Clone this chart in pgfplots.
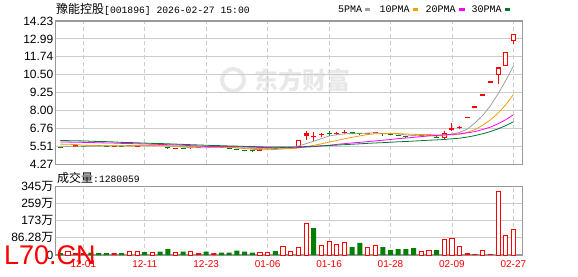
\documentclass[border=0pt]{standalone}
\usepackage{fontspec}
\setmainfont{Liberation Sans}
\newfontfamily\cjk{Noto Sans CJK SC}
\newfontfamily\mono{Liberation Mono}
\usepackage{pgfplots}
\usepackage{pgfplotstable}
\pgfplotsset{compat=1.18}
\definecolor{cred}{HTML}{FF0000}
\definecolor{cgreen}{HTML}{008000}
\definecolor{cma5}{HTML}{A0A0A0}
\definecolor{cma10}{HTML}{F0A000}
\definecolor{cma20}{HTML}{FF00FF}
\definecolor{cma30}{HTML}{007A33}
\definecolor{cframe}{HTML}{999999}
\definecolor{cgrid}{HTML}{CCCCCC}

% red candles: low, high, body low, body high
\pgfplotstableread{
i lo hi bl bh
1 5.48 5.56 5.50 5.55
2 5.46 5.63 5.48 5.61
7 5.54 5.58 5.54 5.58
9 5.56 5.63 5.57 5.62
10 5.50 5.63 5.51 5.62
12 5.55 5.60 5.56 5.60
15 5.33 5.42 5.34 5.41
17 5.37 5.47 5.38 5.45
18 5.44 5.49 5.45 5.48
20 5.45 5.50 5.46 5.49
26 5.22 5.33 5.23 5.31
27 5.30 5.40 5.31 5.38
29 5.40 5.51 5.41 5.47
30 5.45 5.51 5.46 5.49
31 5.49 5.99 5.51 5.99
32 5.99 6.62 6.26 6.43
33 5.88 6.55 6.18 6.27
34 6.16 6.48 6.31 6.38
36 6.29 6.52 6.38 6.45
37 6.36 6.66 6.48 6.55
40 6.38 6.46 6.40 6.44
41 6.42 6.54 6.43 6.52
47 6.25 6.33 6.27 6.32
48 6.27 6.38 6.29 6.36
50 6.02 6.62 6.07 6.48
51 6.62 7.13 6.66 6.80
52 6.71 6.94 6.78 6.87
53 7.46 7.56 7.46 7.56
54 8.21 8.31 8.21 8.31
55 9.04 9.14 9.04 9.14
56 9.95 10.05 9.95 10.05
57 9.88 11.00 10.50 11.00
58 11.09 12.10 11.09 12.10
59 12.61 13.31 12.84 13.31
}\candR

% hollow red bodies
\pgfplotstableread{
i bl bh
31 5.51 5.99
50 6.07 6.48
57 10.50 11.00
58 11.09 12.10
59 12.84 13.31
}\candH

% green candles
\pgfplotstableread{
i lo hi bl bh
0 5.43 5.49 5.44 5.48
3 5.51 5.58 5.52 5.57
4 5.52 5.61 5.54 5.60
5 5.55 5.60 5.56 5.59
6 5.54 5.59 5.55 5.58
8 5.54 5.59 5.55 5.58
11 5.55 5.61 5.56 5.60
13 5.55 5.60 5.56 5.59
14 5.35 5.47 5.39 5.46
16 5.36 5.43 5.37 5.41
19 5.45 5.57 5.46 5.55
21 5.42 5.48 5.43 5.47
22 5.37 5.45 5.39 5.43
23 5.26 5.37 5.28 5.35
24 5.20 5.30 5.22 5.29
25 5.14 5.30 5.20 5.25
28 5.34 5.42 5.36 5.41
35 6.22 6.59 6.38 6.45
38 6.36 6.52 6.38 6.50
39 6.34 6.46 6.39 6.44
42 6.27 6.48 6.35 6.43
43 6.29 6.38 6.31 6.36
44 6.22 6.33 6.24 6.31
45 6.13 6.27 6.15 6.25
46 6.22 6.33 6.24 6.31
49 6.09 6.22 6.10 6.20
}\candG

% moving averages
\pgfplotstableread{
i m5 m10 m20 m30
0 5.53 5.68 5.83 5.93
1 5.52 5.67 5.82 5.92
2 5.53 5.65 5.81 5.91
3 5.53 5.60 5.80 5.90
4 5.53 5.58 5.79 5.88
5 5.55 5.57 5.77 5.86
6 5.56 5.56 5.76 5.85
7 5.56 5.56 5.75 5.83
8 5.56 5.55 5.73 5.80
9 5.57 5.55 5.72 5.79
10 5.58 5.57 5.70 5.77
11 5.58 5.57 5.69 5.75
12 5.59 5.57 5.67 5.73
13 5.59 5.58 5.66 5.72
14 5.55 5.56 5.64 5.70
15 5.51 5.54 5.62 5.68
16 5.47 5.53 5.60 5.66
17 5.44 5.51 5.57 5.64
18 5.42 5.50 5.55 5.62
19 5.43 5.49 5.52 5.60
20 5.45 5.48 5.52 5.58
21 5.46 5.46 5.52 5.57
22 5.45 5.45 5.51 5.55
23 5.41 5.42 5.50 5.54
24 5.37 5.40 5.48 5.52
25 5.32 5.38 5.46 5.51
26 5.29 5.38 5.45 5.49
27 5.29 5.37 5.44 5.48
28 5.30 5.36 5.43 5.47
29 5.35 5.36 5.42 5.47
30 5.40 5.36 5.42 5.47
31 5.54 5.41 5.44 5.48
32 5.71 5.50 5.47 5.51
33 5.88 5.59 5.50 5.53
34 6.06 5.70 5.55 5.56
35 6.24 5.82 5.60 5.58
36 6.33 5.93 5.66 5.61
37 6.39 6.05 5.71 5.64
38 6.43 6.15 5.76 5.67
39 6.43 6.25 5.80 5.70
40 6.44 6.34 5.85 5.73
41 6.46 6.40 5.90 5.76
42 6.42 6.40 5.95 5.78
43 6.41 6.42 6.00 5.81
44 6.38 6.41 6.06 5.84
45 6.32 6.38 6.10 5.86
46 6.27 6.36 6.15 5.89
47 6.26 6.34 6.20 5.92
48 6.27 6.34 6.25 5.95
49 6.24 6.31 6.28 5.97
50 6.30 6.31 6.33 6.00
51 6.38 6.33 6.36 6.05
52 6.49 6.37 6.39 6.09
53 6.72 6.49 6.46 6.17
54 7.15 6.69 6.55 6.27
55 7.67 6.99 6.69 6.40
56 8.34 7.36 6.86 6.55
57 9.17 7.83 7.09 6.74
58 10.09 8.40 7.37 6.96
59 11.10 9.12 7.72 7.23
}\matab

% volume (10k shares): red hollow, red filled, green
\pgfplotstableread{
i v
1 18
9 20
10 20
12 15
15 15
17 20
26 15
27 15
29 45
30 18
31 39
32 160
34 49
35 69
36 54
37 64
40 39
41 49
47 19
48 24
50 79
51 84
52 44
55 22
57 321
58 99
59 128
}\volR

\pgfplotstableread{
i v
2 10
3 10
7 10
18 10
20 10
53 10
54 5
56 5
}\volF

\pgfplotstableread{
i v
0 10
4 12
5 10
6 10
8 10
11 15
13 17
14 30
16 17
19 17
21 12
22 12
23 22
24 17
25 12
28 20
33 135
38 40
39 61
42 40
43 25
44 30
45 30
46 35
49 25
}\volG

\pgfplotsset{
  kbase/.style={
    scale only axis, anchor=south west,
    width=466.8pt,
    xmin=-0.62, xmax=60.16,
    xtick={3,11,19,27,35,43,51,59},
    xmajorgrids, ymajorgrids,
    x grid style={cgrid, dash pattern=on 4pt off 3pt, line width=0.9pt},
    y grid style={cgrid, line width=0.9pt},
    axis line style={cframe, line width=1.2pt},
    major tick length=0pt,
    yticklabel style={font=\fontsize{12}{12}\selectfont, text=black, inner sep=2pt},
  },
  candle/.style 2 args={draw=none, mark=none, forget plot,
    error bars/.cd, y dir=plus, y explicit, error mark=none,
    error bar style={draw=#1, solid, line width=#2}},
}

\begin{document}
\begin{tikzpicture}[x=1pt,y=1pt]
\useasboundingbox (0,0) rectangle (578,276);
% background watermark logo
\draw[black!9, line width=4pt] (233,196) circle (11);
\node[text=black!9, font=\cjk\bfseries\fontsize{24}{24}\selectfont] at (302,196) {东方财富};

\begin{axis}[kbase,
  at={(55.5pt,111.6pt)}, height=143.4pt,
  ymin=4.27, ymax=14.23,
  ytick={4.27,5.515,6.76,8.005,9.25,10.495,11.74,12.985,14.23},
  yticklabels={4.27,5.51,6.76,8.00,9.25,10.50,11.74,12.99,14.23},
  xticklabels={},
]
% wicks
\addplot[candle={cred}{1pt}]
  table[x=i, y=lo, y error plus expr=\thisrow{hi}-\thisrow{lo}] {\candR};
\addplot[candle={cgreen}{1pt}]
  table[x=i, y=lo, y error plus expr=\thisrow{hi}-\thisrow{lo}] {\candG};
% bodies
\addplot[candle={cred}{5pt}]
  table[x=i, y=bl, y error plus expr=\thisrow{bh}-\thisrow{bl}] {\candR};
\addplot[candle={cgreen}{5pt}]
  table[x=i, y=bl, y error plus expr=\thisrow{bh}-\thisrow{bl}] {\candG};
\addplot[candle={white}{3pt}]
  table[x=i, y expr=\thisrow{bl}+0.07, y error plus expr=\thisrow{bh}-\thisrow{bl}-0.14] {\candH};
% moving averages
\addplot[cma5, line width=0.8pt, mark=none] table[x=i, y=m5] {\matab};
\addplot[cma10, line width=0.8pt, mark=none] table[x=i, y=m10] {\matab};
\addplot[cma20, line width=0.8pt, mark=none] table[x=i, y=m20] {\matab};
\addplot[cma30, line width=0.8pt, mark=none] table[x=i, y=m30] {\matab};
\end{axis}

\begin{axis}[kbase,
  at={(55.5pt,21pt)}, height=68.7pt,
  ymin=0, ymax=345.12,
  ytick={0,86.28,172.56,258.84,345.12},
  yticklabels={0,{86.28{\cjk 万}},{173{\cjk 万}},{259{\cjk 万}},{345{\cjk 万}}},
  xticklabels={12-01,12-11,12-23,01-06,01-16,01-28,02-09,02-27},
  xticklabel style={text=cred, font=\fontsize{10}{10}\selectfont, anchor=center, yshift=-9.5pt},
]
\addplot[ybar, bar width=5pt, bar shift=0pt, fill=cgreen, draw=none] table[x=i, y=v] {\volG};
\addplot[ybar, bar width=5pt, bar shift=0pt, fill=cred, draw=none] table[x=i, y=v] {\volF};
\addplot[ybar, bar width=4.1pt, bar shift=0pt, fill=white, draw=cred, line width=0.9pt] table[x=i, y=v] {\volR};
\end{axis}

% title and legend
\node[anchor=west, inner sep=0] at (56,266.4)
  {{\cjk\fontsize{12}{12}\selectfont 豫能控股}{\mono\fontsize{9.7}{9.7}\selectfont [001896] 2026-02-27 15:00}};
\node[anchor=west, inner sep=0, font=\mono\fontsize{10}{10}\selectfont] at (338,266.4) {5PMA};
\fill[cma5] (364.6,265) rectangle (370.2,268);
\node[anchor=west, inner sep=0, font=\mono\fontsize{10}{10}\selectfont] at (379.4,266.4) {10PMA};
\fill[cma10] (412.5,265) rectangle (418,268);
\node[anchor=west, inner sep=0, font=\mono\fontsize{10}{10}\selectfont] at (425.4,266.4) {20PMA};
\fill[cma20] (459.3,265) rectangle (464.8,268);
\node[anchor=west, inner sep=0, font=\mono\fontsize{10}{10}\selectfont] at (471.5,266.4) {30PMA};
\fill[cma30] (504.6,265) rectangle (510.1,268);
% volume caption
\node[anchor=west, inner sep=0] at (57,98.3)
  {{\cjk\fontsize{12}{12}\selectfont 成交量}{\mono\fontsize{9.7}{9.7}\selectfont :1280059}};
% site watermark
\node[anchor=base west, inner sep=0, text=cred, font=\fontsize{27}{27}\selectfont] at (4,12) {L70.CN};
\end{tikzpicture}
\end{document}
